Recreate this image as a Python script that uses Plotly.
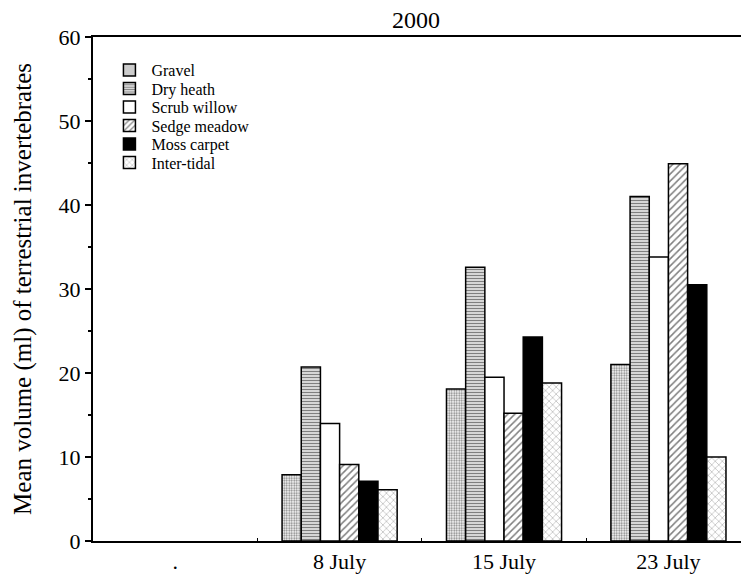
import plotly.graph_objects as go

categories = [".", "8 July", "15 July", "23 July"]
series_names = ["Gravel", "Dry heath", "Scrub willow", "Sedge meadow", "Moss carpet", "Inter-tidal"]
gravel = [None, 7.9, 18.1, 21.0]
dry_heath = [None, 20.7, 32.6, 41.0]
scrub_willow = [None, 14.0, 19.5, 33.8]
sedge_meadow = [None, 9.1, 15.2, 44.9]
moss_carpet = [None, 7.1, 24.3, 30.5]
inter_tidal = [None, 6.1, 18.8, 10.0]
y_ticks = [0, 10, 20, 30, 40, 50, 60]

values = [gravel, dry_heath, scrub_willow, sedge_meadow, moss_carpet, inter_tidal]
styles = [
    dict(color="white", pattern=dict(shape=".", size=2.5, solidity=0.45, fgcolor="black", bgcolor="white")),
    dict(color="white", pattern=dict(shape="-", size=3, solidity=0.55, fgcolor="black", bgcolor="white")),
    dict(color="white"),
    dict(color="white", pattern=dict(shape="/", size=5, solidity=0.3, fgcolor="black", bgcolor="white")),
    dict(color="black"),
    dict(color="white", pattern=dict(shape="x", size=5, solidity=0.15, fgcolor="black", bgcolor="white")),
]

font_family = "Liberation Serif"
# the page body has an 8px margin, so the figure is drawn 8px smaller/offset
page_offset = 8
W, H = 749 - page_offset, 582 - page_offset
plot_left, plot_top, plot_bottom = 93 - page_offset, 37 - page_offset, 541 - page_offset

legend_names = ["legend", "legend2", "legend3", "legend4", "legend5", "legend6"]
legend_first_center_ref = 70
legend_step = 18.5

fig = go.Figure()
layout_legends = {}
for i, (name, vals, st) in enumerate(zip(series_names, values, styles)):
    marker = dict(st)
    marker["line"] = dict(color="black", width=1.5)
    fig.add_trace(go.Bar(name=name, x=categories, y=vals, marker=marker, legend=legend_names[i]))
    cy = legend_first_center_ref + i * legend_step - page_offset
    layout_legends[legend_names[i]] = dict(
        x=0.022, y=(plot_bottom - cy) / (plot_bottom - plot_top),
        xanchor="left", yanchor="middle",
        font=dict(size=16, family=font_family, color="black"),
        bgcolor="rgba(0,0,0,0)", itemwidth=34,
    )

fig.update_layout(
    width=W, height=H,
    margin=dict(l=plot_left, r=0, t=plot_top, b=H - plot_bottom),
    paper_bgcolor="white", plot_bgcolor="white",
    barmode="group", bargap=0.3, bargroupgap=0,
    font=dict(family=font_family, color="black"),
    title=dict(text="2000", x=408 / W, xanchor="center", y=1 - 12 / H, yanchor="middle",
               font=dict(size=24, family=font_family, color="black")),
    showlegend=True,
    **layout_legends,
)
fig.update_xaxes(
    type="category", range=[-0.5, 3.49], automargin=False,
    showline=True, linecolor="black", linewidth=2, mirror=True,
    ticks="inside", ticklen=3, tickson="boundaries", tickcolor="black",
    showgrid=False, zeroline=False,
    tickfont=dict(size=22, family=font_family, color="black"),
)
fig.update_yaxes(
    range=[0, 60], tickvals=y_ticks, automargin=False,
    showline=True, linecolor="black", linewidth=2,
    ticks="outside", ticklen=6, tickcolor="black", tickwidth=1.5,
    minor=dict(dtick=5, ticks="outside", ticklen=3, tickcolor="black", showgrid=False),
    showgrid=False, zeroline=False,
    tickfont=dict(size=22, family=font_family, color="black"),
    title=dict(text="Mean volume (ml) of terrestrial invertebrates", standoff=20,
               font=dict(size=25, family=font_family, color="black")),
)
fig.write_html("out.html")
